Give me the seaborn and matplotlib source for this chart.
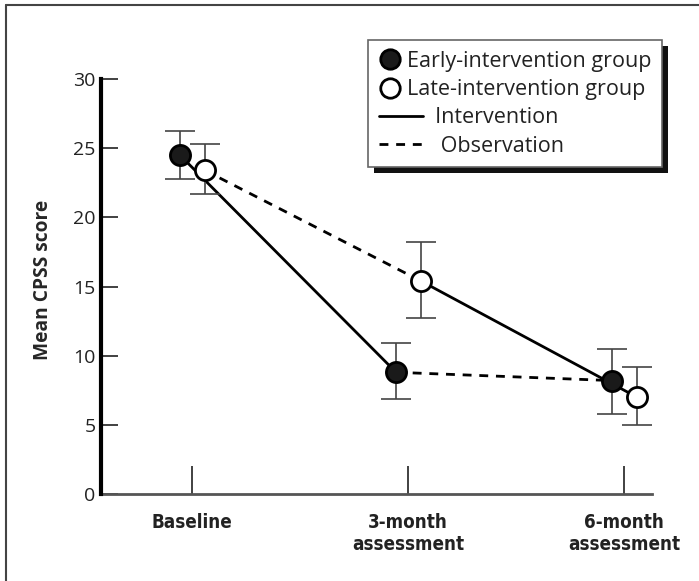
import numpy as np
import pandas as pd
import matplotlib
matplotlib.use("Agg")
import matplotlib.pyplot as plt
import seaborn as sns
from matplotlib.lines import Line2D
from matplotlib.patches import Rectangle

# ======================
# DATA
# ======================
timepoints = ["Baseline", "3-month\nassessment", "6-month\nassessment"]
early_mean = [24.5, 8.8, 8.2]
early_lo = [22.8, 6.85, 5.8]
early_hi = [26.25, 10.95, 10.45]
late_mean = [23.4, 15.4, 7.0]
late_lo = [21.7, 12.7, 5.0]
late_hi = [25.3, 18.2, 9.2]
# phase of each segment (baseline->3m, 3m->6m)
early_phase = ["Intervention", "Observation"]
late_phase = ["Observation", "Intervention"]

sns.set_theme(style="white")
plt.rcParams["font.family"] = ["Open Sans", "DejaVu Sans"]

x = np.arange(len(timepoints))
off_e, off_l = -0.055, 0.06
DASH = (3.2, 2.8)

# long table of line segments for seaborn
rows = []
for grp, mean, phase, off in [("early", early_mean, early_phase, off_e),
                              ("late", late_mean, late_phase, off_l)]:
    for i in range(len(phase)):
        for j in (i, i + 1):
            rows.append({"x": x[j] + off, "score": mean[j],
                         "seg": f"{grp}{i}", "phase": phase[i]})
segs = pd.DataFrame(rows)

fig = plt.figure(figsize=(6.99, 5.81), dpi=100)
ax = fig.add_axes([0.1445, 0.1497, 0.933 - 0.1445, 0.864 - 0.1497])

sns.lineplot(data=segs, x="x", y="score", units="seg", style="phase",
             estimator=None, color="black", lw=2.0, ax=ax,
             dashes={"Intervention": "", "Observation": DASH},
             legend=False, sort=False)

# error bars + markers
em, lm = np.array(early_mean), np.array(late_mean)
ax.errorbar(x + off_e, em, yerr=[em - np.array(early_lo), np.array(early_hi) - em],
            fmt="none", ecolor="#444444", elinewidth=1.2, capsize=11, capthick=1.2, zorder=3)
ax.errorbar(x + off_l, lm, yerr=[lm - np.array(late_lo), np.array(late_hi) - lm],
            fmt="none", ecolor="#444444", elinewidth=1.2, capsize=11, capthick=1.2, zorder=3)
ax.plot(x + off_e, em, "o", ms=14.5, mfc="#1a1a1a", mec="black", mew=2, zorder=4)
ax.plot(x + off_l, lm, "o", ms=14.5, mfc="white", mec="black", mew=2, zorder=4)

# axes styling
ax.set_xlim(-0.42, 2.13)
ax.set_ylim(0, 30)
ax.set_yticks([0, 5, 10, 15, 20, 25, 30])
ax.set_xticks(x)
ax.set_xticklabels(timepoints, fontsize=13.5, fontweight="bold",
                   family="DejaVu Sans", fontstretch="condensed", linespacing=1.15)
ax.tick_params(axis="y", direction="in", length=12, width=1.3, color="#333333",
               labelsize=14, pad=4, left=True)
ax.tick_params(axis="x", direction="in", length=20, width=1.3, color="#333333",
               pad=14, bottom=True)
for lab in ax.get_yticklabels() + ax.get_xticklabels():
    lab.set_color("#222222")
ax.set_xlabel("")
ax.set_ylabel("Mean CPSS score", fontsize=13.8, fontweight="bold")
ax.yaxis.set_label_coords(-0.087, 0.516)
sns.despine(ax=ax)
ax.spines["left"].set_linewidth(3)
ax.spines["left"].set_color("black")
ax.spines["bottom"].set_linewidth(2)
ax.spines["bottom"].set_color("#555555")
ax.spines["left"].set_zorder(5)


# legend: line samples are drawn longer than the marker box
class LongLineHandler:
    def __init__(self, length):
        self.length = length

    def legend_artist(self, legend, orig_handle, fontsize, handlebox):
        x0, y0 = -handlebox.xdescent, -handlebox.ydescent
        yc = y0 + handlebox.height / 2
        line = Line2D([x0, x0 + self.length], [yc, yc], color="black", lw=2,
                      ls=orig_handle.get_linestyle())
        if orig_handle.get_linestyle() != "-":
            line.set_dashes(DASH)
        handlebox.add_artist(line)
        return line


h_early = Line2D([], [], ls="none", marker="o", ms=14, mfc="#1a1a1a", mec="black", mew=2)
h_late = Line2D([], [], ls="none", marker="o", ms=14, mfc="white", mec="black", mew=2)
h_int = Line2D([], [], color="black", lw=2, ls="-")
h_obs = Line2D([], [], color="black", lw=2, ls="--")
labels = ["Early-intervention group", "Late-intervention group",
          "     Intervention", "      Observation"]
leg = fig.legend([h_early, h_late, h_int, h_obs], labels, loc="upper left",
                 bbox_to_anchor=(368 / 699, 1 - 40 / 581), bbox_transform=fig.transFigure,
                 handler_map={h_int: LongLineHandler(32), h_obs: LongLineHandler(32)},
                 frameon=True, fancybox=False, fontsize=15.5, handlelength=1.0,
                 handletextpad=0.3, labelspacing=0.34, borderpad=0.5, borderaxespad=0,
                 framealpha=1, numpoints=1)
leg.get_frame().set_facecolor("white")
leg.get_frame().set_edgecolor("#666666")
leg.get_frame().set_linewidth(1.2)
leg.set_zorder(10)
for t in leg.get_texts():
    t.set_color("#222222")

# drop shadow of the legend box
fig.canvas.draw()
bb = leg.get_window_extent().transformed(fig.transFigure.inverted())
fig.add_artist(Rectangle((bb.x0 + 6 / 699, bb.y0 - 6 / 581), bb.width, bb.height,
                         transform=fig.transFigure, facecolor="#111111",
                         edgecolor="none", zorder=9))

# outer frame (top and left only)
fig.add_artist(Line2D([6 / 699, 1], [1 - 5 / 581, 1 - 5 / 581],
                      transform=fig.transFigure, color="#444444", lw=1.5))
fig.add_artist(Line2D([6 / 699, 6 / 699], [0, 1 - 5 / 581],
                      transform=fig.transFigure, color="#444444", lw=1.5))

fig.savefig("out.png", dpi=100)
